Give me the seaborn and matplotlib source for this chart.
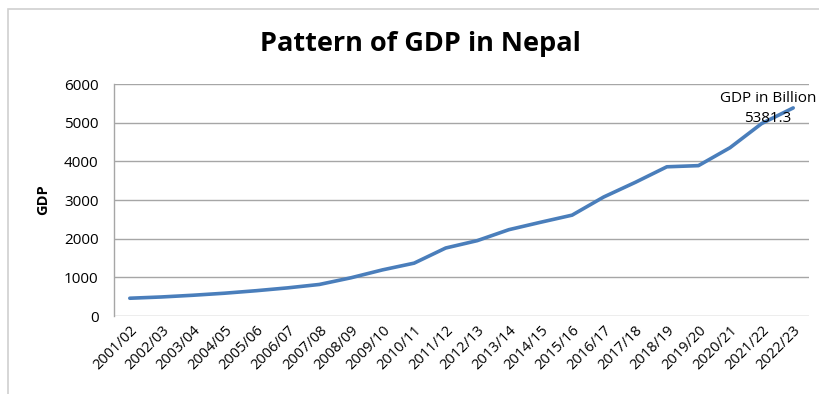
import matplotlib
matplotlib.use("Agg")
import matplotlib.pyplot as plt
import seaborn as sns
import pandas as pd
from matplotlib.patches import Rectangle

years = ["2001/02", "2002/03", "2003/04", "2004/05", "2005/06", "2006/07", "2007/08",
         "2008/09", "2009/10", "2010/11", "2011/12", "2012/13", "2013/14", "2014/15",
         "2015/16", "2016/17", "2017/18", "2018/19", "2019/20", "2020/21", "2021/22",
         "2022/23"]
gdp = [459.4, 492.2, 536.7, 589.4, 654.1, 727.8, 815.7, 988.3, 1193.0, 1366.9,
       1758.4, 1949.3, 2232.5, 2423.6, 2608.2, 3077.1, 3455.9, 3858.9, 3888.7,
       4352.6, 4976.6, 5381.3]
y_ticks = [0, 1000, 2000, 3000, 4000, 5000, 6000]

df = pd.DataFrame({"year": years, "gdp": gdp})
df["pos"] = range(len(years))

sns.set_theme(style="white")
plt.rcParams["font.family"] = ["Open Sans", "DejaVu Sans"]
plt.rcParams["text.color"] = "black"

fig = plt.figure(figsize=(8.2, 3.94), dpi=100)
ax = fig.add_axes([114/820, 1 - 316/394, (809-114)/820, (316-84)/394])

sns.lineplot(data=df, x="pos", y="gdp", ax=ax, color="#4a7ebb", linewidth=2.6)

ax.set_xlim(-0.5, len(years) - 0.5)
ax.set_ylim(0, 6000)
ax.set_yticks(y_ticks)
ax.set_yticklabels([str(v) for v in y_ticks], fontsize=11, color="black")
ax.set_xticks(range(len(years)))
ax.set_xticklabels(years, rotation=45, ha="right", rotation_mode="anchor",
                   fontsize=10.5, color="black")
ax.tick_params(axis="y", length=0, pad=11)
ax.tick_params(axis="x", length=0, pad=5)
ax.grid(axis="y", color="#a6a6a6", linewidth=1.0)
ax.set_axisbelow(True)
for s in ["top", "right", "bottom"]:
    ax.spines[s].set_visible(False)
ax.spines["left"].set_color("#a6a6a6")
ax.spines["left"].set_linewidth(1.0)
ax.set_xlabel("")
ax.set_ylabel("GDP", fontsize=10.5, fontweight="bold", labelpad=10, color="black")

ax.text(len(years) - 1 - 0.8, gdp[-1] - 10, "GDP in Billion\n" + f"{gdp[-1]:.1f}",
        ha="center", va="center", fontsize=11, linespacing=1.45, clip_on=False,
        color="black")

fig.text(420/820, 1 - 44/394, "Pattern of GDP in Nepal", ha="center", va="center",
         fontsize=19.5, fontweight="bold", color="black")

fig.patches.append(Rectangle((8/820, -0.1), 1.1, 1 - 9/394 + 0.1, transform=fig.transFigure,
                             fill=False, edgecolor="#d0d0d0", linewidth=1.2))

fig.savefig("out.png", dpi=100)
